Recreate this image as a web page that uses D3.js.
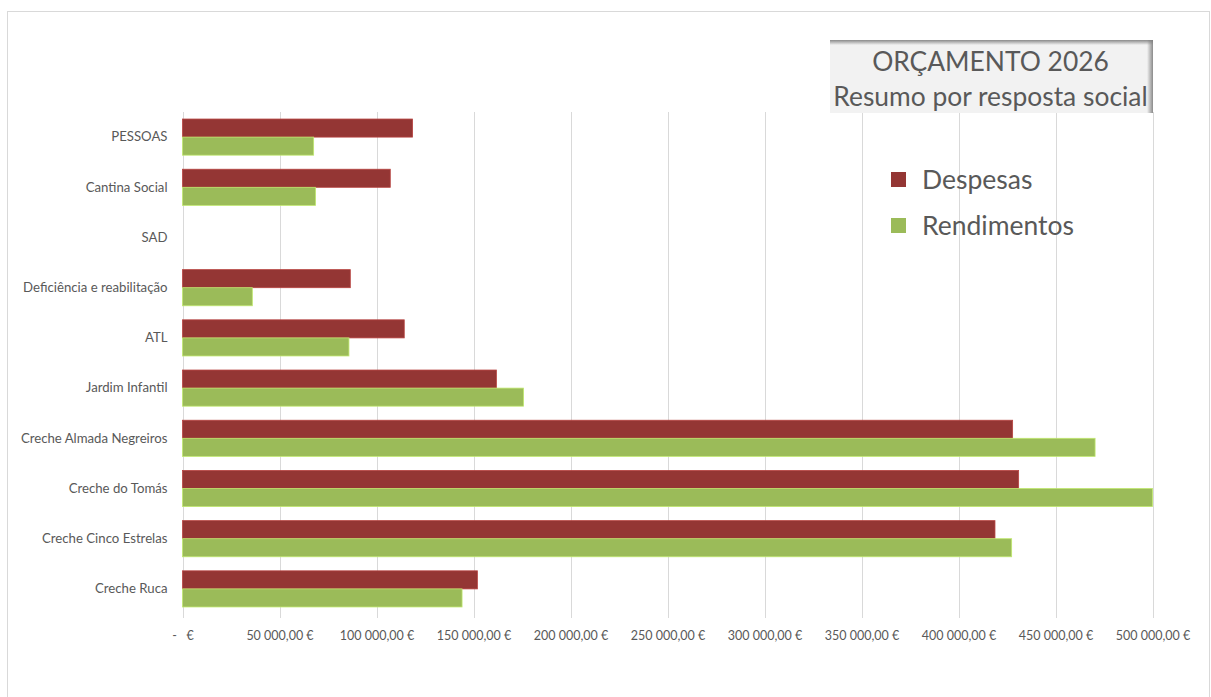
<!DOCTYPE html>
<html><head><meta charset="utf-8">
<script src="https://cdn.jsdelivr.net/npm/d3@7"></script>
<style>body{margin:0;background:#fff;}svg{display:block;font-family:Lato,"Open Sans",sans-serif;}</style>
</head><body><svg id="c" width="1211" height="697"></svg>
<script>
const categories = ["PESSOAS","Cantina Social","SAD","Deficiência e reabilitação","ATL","Jardim Infantil","Creche Almada Negreiros","Creche do Tomás","Creche Cinco Estrelas","Creche Ruca"];
const despesas = [118600,107100,0,86500,114300,161800,427900,431000,418800,152000];
const rendimentos = [67600,68600,0,36000,85800,175800,470400,500000,427400,144100];
const seriesNames = ["Despesas","Rendimentos"];
const seriesColors = ["#943634","#9bbb59"];
const tickValues = [0,50000,100000,150000,200000,250000,300000,350000,400000,450000,500000];
const titleLines = ["ORÇAMENTO 2026","Resumo por resposta social"];

(function(){
const svg = d3.select("#c");
const defs = svg.append("defs");

// outer border
svg.append("rect").attr("x",7.5).attr("y",11.5).attr("width",1202).attr("height",700).attr("fill","#fff").attr("stroke","#d9d9d9");

const pL=182.5, pR=1152.5, pT=112, pB=614;
const x = d3.scaleLinear().domain([0,500000]).range([pL,pR]);
const y = d3.scaleBand().domain(categories).range([pT,pB]).paddingInner(0.28).paddingOuter(0.14);
const ys = d3.scaleBand().domain(seriesNames).range([0,y.bandwidth()]);

// gridlines
svg.append("g").selectAll("line").data(tickValues).join("line")
  .attr("x1",d=>Math.round(x(d))+0.5).attr("x2",d=>Math.round(x(d))+0.5)
  .attr("y1",pT).attr("y2",pB+4).attr("stroke","#d9d9d9").attr("stroke-width",1);

// bars
const data = [despesas, rendimentos];
seriesNames.forEach((s,i)=>{
  svg.append("g").selectAll("rect").data(categories).join("rect")
    .attr("x",x(0)).attr("y",c=>y(c)+ys(s))
    .attr("width",(c,j)=>x(data[i][j])-x(0)).attr("height",ys.bandwidth())
    .attr("fill",seriesColors[i])
    .attr("stroke",d3.color(seriesColors[i]).brighter(0.6)).attr("stroke-width",0.8)
    .style("display",(c,j)=>data[i][j]>0?null:"none");
});

// x axis labels
const fmt = d=> d===0 ? "-\u00a0\u00a0\u00a0€" : d3.format(",.2f")(d).replace(/,/g,"\u00a0").replace(/\.(\d\d)$/,",$1")+"\u00a0€";
const xa = d3.axisBottom(x).tickValues(tickValues).tickFormat(fmt).tickSize(0).tickPadding(0);
const gx = svg.append("g").attr("transform",`translate(0,${pB+17})`).call(xa);
gx.select(".domain").remove();
gx.selectAll("text").attr("fill","#595959").style("font-size","12.5px").style("font-family","Lato");

// y axis labels
const ya = d3.axisLeft(y).tickSize(0).tickPadding(15);
const gy = svg.append("g").attr("transform",`translate(${pL},0)`).call(ya);
gy.select(".domain").remove();
gy.selectAll("text").attr("fill","#595959").style("font-size","13.2px").style("font-family","Lato");

// title box with shadow
const tb = {x:830,y:40,w:323,h:73};
const lg1 = defs.append("linearGradient").attr("id","gr").attr("x1",0).attr("x2",1);
lg1.append("stop").attr("offset",0).attr("stop-color","#7f7f7f").attr("stop-opacity",0);
lg1.append("stop").attr("offset",1).attr("stop-color","#7f7f7f").attr("stop-opacity",0.9);
const lg2 = defs.append("linearGradient").attr("id","gt").attr("x1",0).attr("x2",0).attr("y1",0).attr("y2",1);
lg2.append("stop").attr("offset",0).attr("stop-color","#7f7f7f").attr("stop-opacity",0.9);
lg2.append("stop").attr("offset",1).attr("stop-color","#7f7f7f").attr("stop-opacity",0);
svg.append("rect").attr("x",tb.x).attr("y",tb.y).attr("width",tb.w).attr("height",tb.h).attr("fill","#f2f2f2");
svg.append("rect").attr("x",tb.x).attr("y",tb.y).attr("width",tb.w).attr("height",5).attr("fill","url(#gt)");
svg.append("rect").attr("x",tb.x+tb.w-6).attr("y",tb.y).attr("width",6).attr("height",tb.h).attr("fill","url(#gr)");
svg.append("g").selectAll("text").data(titleLines).join("text")
  .attr("x",tb.x+tb.w/2-1).attr("y",(d,i)=>tb.y+31+i*35)
  .attr("text-anchor","middle").attr("fill","#595959").style("font-size","26.4px").style("font-family","Lato")
  .text(d=>d);

// legend
const lg = svg.append("g").attr("transform","translate(891,172)");
seriesNames.forEach((s,i)=>{
  lg.append("rect").attr("x",0).attr("y",i*46).attr("width",15).attr("height",15).attr("fill",seriesColors[i]);
  lg.append("text").attr("x",31).attr("y",i*46+17).attr("fill","#595959").style("font-size","26.5px").style("font-family","Lato").text(s);
});
})();
</script></body></html>
